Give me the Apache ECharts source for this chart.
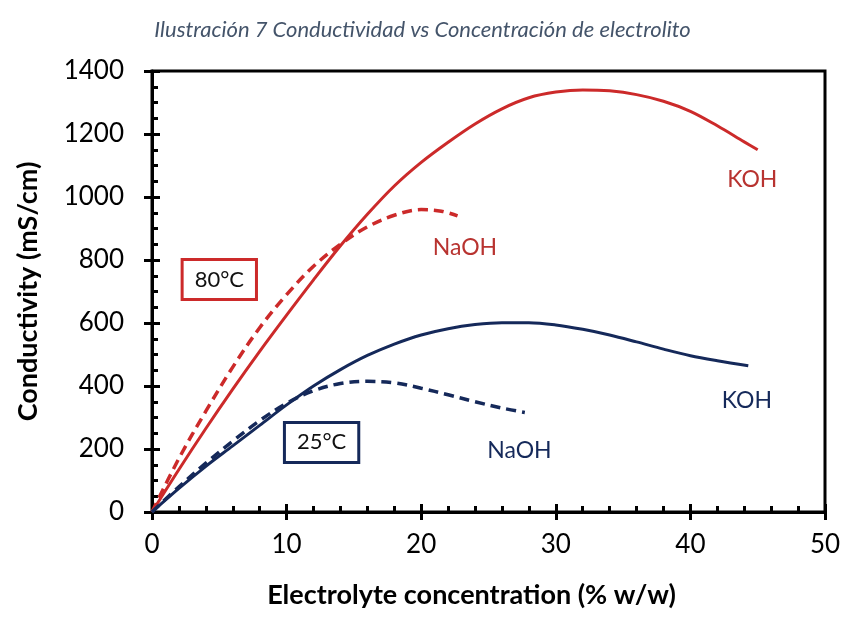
<!DOCTYPE html>
<html>
<head>
<meta charset="utf-8">
<script src="https://cdn.jsdelivr.net/npm/echarts@6/dist/echarts.min.js"></script>
<style>html,body{margin:0;padding:0;background:#fff}#c{width:845px;height:626px}</style>
</head>
<body>
<div id="c"></div>
<script>
// ---- data ----
const titleText = "Ilustración 7 Conductividad vs Concentración de electrolito";
const xAxisName = "Electrolyte concentration (% w/w)";
const yAxisName = "Conductivity (mS/cm)";
const xTicks = [0, 10, 20, 30, 40, 50];
const yTicks = [0, 200, 400, 600, 800, 1000, 1200, 1400];

const koh80 = [[0,0],[2,135],[4,265],[6,390],[8,510],[10,625],[12,737],[14,845],[16,945],[18,1035],[20,1110],[22,1174],[24,1232],[26,1280],[28,1315],[30,1333],[32,1340],[34,1337],[36,1325],[38,1304],[40,1272],[42,1226],[44,1175],[45,1150]];
const naoh80 = [[0,0],[2,170],[4,320],[6,460],[8,585],[10,690],[12,780],[14,850],[16,905],[18,942],[20,960],[21.5,955],[22.7,940]];
const koh25 = [[0,0],[2,75],[4,145],[6,210],[8,275],[10,340],[12,400],[14,452],[16,497],[18,533],[20,562],[22,582],[24,595],[26,601],[28,601],[30,594],[32,580],[34,562],[36,540],[38,517],[40,496],[42,480],[44.3,464]];
const naoh25 = [[0,0],[2,80],[4,155],[6,225],[8,290],[10,345],[12,385],[14,408],[16,415],[18,410],[20,393],[22,372],[24,350],[26,330],[27.7,316]];

const labels80 = [{name:"KOH", pos:[44.6,1056]}, {name:"NaOH", pos:[23.25,840]}];
const labels25 = [{name:"KOH", pos:[44.2,353]}, {name:"NaOH", pos:[27.3,194]}];
const boxes = [{name:"80°C", pos:[5.0,738], temp:"80"}, {name:"25°C", pos:[12.6,221], temp:"25"}];

// ---- chart ----
const RED = "#cc2a2a";
const RED_TXT = "#b83330";
const NAVY = "#15295a";
const FONT = "Lato";

const chart = echarts.init(document.getElementById('c'), null, {renderer:'canvas'});

const xBase = {type:'value', min:0, max:50, interval:10, position:'bottom'};
const yBase = {type:'value', min:0, max:1400, interval:200, position:'left'};

const hidden = {symbol:'circle', symbolSize:2, itemStyle:{color:'rgba(0,0,0,0)', opacity:1}, silent:true};

const option = {
  backgroundColor:'#fff',
  animation:false,
  title:{text:titleText, left:'center', top:14, textStyle:{fontFamily:FONT, fontStyle:'italic', fontWeight:'normal', fontSize:22, color:'#44546a'}},
  grid:{left:152, right:20, top:71, bottom:114, show:true, borderColor:'#000', borderWidth:3, backgroundColor:'transparent'},
  xAxis:[
    Object.assign({}, xBase, {
      name:xAxisName, nameLocation:'middle', nameGap:70,
      nameTextStyle:{fontFamily:FONT, fontWeight:'bold', fontSize:27, color:'#000', padding:[0,34,0,0]},
      axisLine:{show:true, lineStyle:{color:'#000', width:3}},
      axisTick:{show:true, inside:true, length:8, lineStyle:{color:'#000', width:3}},
      minorTick:{show:true, splitNumber:5, length:6, lineStyle:{color:'#000', width:3}},
      splitLine:{show:false},
      axisLabel:{margin:20, fontFamily:FONT, fontSize:26, color:'#000', formatter:v=>xTicks.includes(v)?String(v):''}
    }),
    Object.assign({}, xBase, {
      axisLine:{show:false}, axisTick:{show:true, inside:false, length:8, lineStyle:{color:'#000', width:3}},
      axisLabel:{show:false}, splitLine:{show:false}
    })
  ],
  yAxis:[
    Object.assign({}, yBase, {
      name:yAxisName, nameLocation:'middle', nameGap:110,
      nameTextStyle:{fontFamily:FONT, fontWeight:'bold', fontSize:27, color:'#000'},
      axisLine:{show:true, lineStyle:{color:'#000', width:3}},
      axisTick:{show:true, inside:true, length:8, lineStyle:{color:'#000', width:3}},
      minorTick:{show:true, splitNumber:4, length:6, lineStyle:{color:'#000', width:3}},
      splitLine:{show:false},
      axisLabel:{margin:28, fontFamily:FONT, fontSize:26, color:'#000', formatter:v=>yTicks.includes(v)?String(v):''}
    }),
    Object.assign({}, yBase, {
      axisLine:{show:false}, axisTick:{show:true, inside:false, length:8, lineStyle:{color:'#000', width:3}},
      axisLabel:{show:false}, splitLine:{show:false}
    })
  ],
  series:[
    {type:'line', name:'KOH 80', data:koh80, smooth:0.35, symbol:'none', lineStyle:{color:RED, width:3}},
    {type:'line', name:'NaOH 80', data:naoh80, smooth:0.35, symbol:'none', lineStyle:{color:RED, width:3.5, type:[10,6]}},
    {type:'line', name:'KOH 25', data:koh25, smooth:0.35, symbol:'none', lineStyle:{color:NAVY, width:3}},
    {type:'line', name:'NaOH 25', data:naoh25, smooth:0.35, symbol:'none', lineStyle:{color:NAVY, width:3.5, type:[10,6]}},
    Object.assign({type:'scatter', z:5,
      data:labels80.map(l=>({value:l.pos, name:l.name})),
      label:{show:true, position:'inside', formatter:p=>p.name, fontFamily:FONT, fontSize:23, color:RED_TXT}}, hidden),
    Object.assign({type:'scatter', z:5,
      data:labels25.map(l=>({value:l.pos, name:l.name})),
      label:{show:true, position:'inside', formatter:p=>p.name, fontFamily:FONT, fontSize:23, color:NAVY}}, hidden),
    Object.assign({type:'scatter', z:5,
      data:boxes.map(b=>({value:b.pos, name:b.name, label:{borderColor: b.temp==='80'?RED:NAVY}})),
      label:{show:true, position:'inside', formatter:p=>p.name, fontFamily:FONT, fontSize:22, color:'#111',
        backgroundColor:'#fff', borderWidth:3, padding:[8,11,7,11]}}, hidden)
  ]
};
chart.setOption(option);
</script>
</body>
</html>
